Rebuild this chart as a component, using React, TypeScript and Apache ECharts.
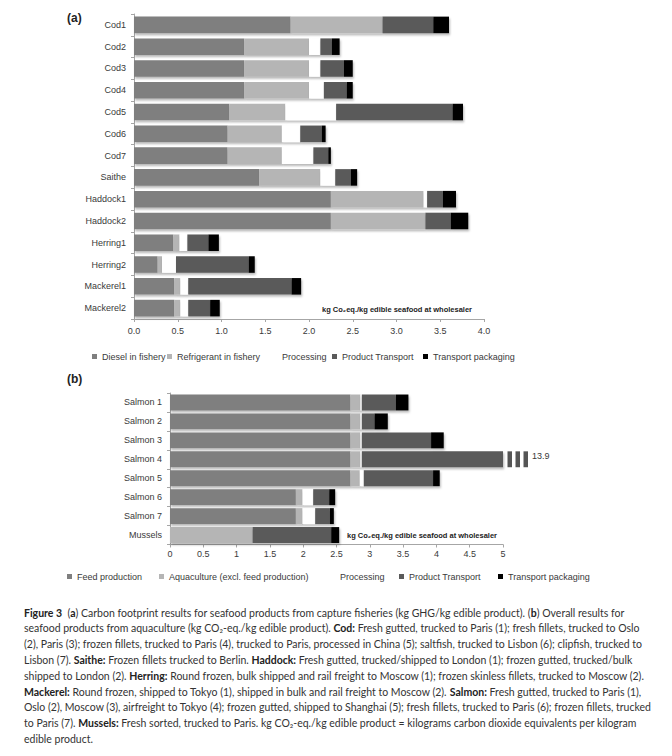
import React, { useEffect, useRef } from 'react';
import * as echarts from 'echarts';

// ---------- Data: (a) capture fisheries ----------
const fisheryProducts = ['Cod1', 'Cod2', 'Cod3', 'Cod4', 'Cod5', 'Cod6', 'Cod7', 'Saithe', 'Haddock1', 'Haddock2', 'Herring1', 'Herring2', 'Mackerel1', 'Mackerel2'];
const dieselInFishery = [1.79, 1.26, 1.26, 1.26, 1.09, 1.07, 1.07, 1.43, 2.25, 2.25, 0.45, 0.27, 0.46, 0.46];
const refrigerantInFishery = [1.05, 0.74, 0.74, 0.74, 0.64, 0.62, 0.62, 0.70, 1.06, 1.08, 0.07, 0.05, 0.07, 0.07];
const processingA = [0, 0.13, 0.13, 0.17, 0.58, 0.21, 0.36, 0.17, 0.04, 0, 0.09, 0.16, 0.09, 0.09];
const productTransportA = [0.58, 0.13, 0.27, 0.26, 1.33, 0.245, 0.17, 0.18, 0.18, 0.29, 0.24, 0.83, 1.18, 0.25];
const transportPackagingA = [0.18, 0.09, 0.10, 0.07, 0.12, 0.045, 0.03, 0.07, 0.15, 0.20, 0.12, 0.07, 0.11, 0.11];
const ticksA = ['0.0', '0.5', '1.0', '1.5', '2.0', '2.5', '3.0', '3.5', '4.0'];

// ---------- Data: (b) aquaculture ----------
const aquaProducts = ['Salmon 1', 'Salmon 2', 'Salmon 3', 'Salmon 4', 'Salmon 5', 'Salmon 6', 'Salmon 7', 'Mussels'];
const feedProduction = [2.71, 2.71, 2.71, 2.71, 2.71, 1.89, 1.89, 0];
const aquacultureExclFeed = [0.15, 0.15, 0.15, 0.15, 0.14, 0.10, 0.10, 1.24];
const processingB = [0.02, 0.02, 0.02, 0.02, 0.06, 0.16, 0.19, 0];
const productTransportB = [0.51, 0.19, 1.04, 10.82, 1.04, 0.24, 0.22, 1.18];
const transportPackagingB = [0.19, 0.20, 0.19, 0.20, 0.10, 0.09, 0.06, 0.12];
const ticksB = ['0', '0.5', '1', '1.5', '2', '2.5', '3', '3.5', '4', '4.5', '5'];
const brokenProduct = 'Salmon 4';

const X_MAX_A = 4;
const X_MAX_B = 5;

const FONT = '"Liberation Sans", Arial, sans-serif';
const CAPTION_FONT = 'Lato, "Open Sans", sans-serif';
const TXT = '#3a3a3a';
const AXIS = '#a6a6a6';
const C_MAIN = '#7f7f7f';
const C_LIGHT = '#b5b5b5';
const C_PROC = '#ffffff';
const C_TRANS = '#5a5a5a';
const C_PACK = '#000000';

const captionLines: string[] = [
  '{b|Figure 3}  ({b|a}) Carbon footprint results for seafood products from capture fisheries (kg GHG/kg edible product). ({b|b}) Overall results for',
  'seafood products from aquaculture (kg CO₂-eq./kg edible product). {b|Cod:} Fresh gutted, trucked to Paris (1); fresh fillets, trucked to Oslo',
  '(2), Paris (3); frozen fillets, trucked to Paris (4), trucked to Paris, processed in China (5); saltfish, trucked to Lisbon (6); clipfish, trucked to',
  'Lisbon (7). {b|Saithe:} Frozen fillets trucked to Berlin. {b|Haddock:} Fresh gutted, trucked/shipped to London (1); frozen gutted, trucked/bulk',
  'shipped to London (2). {b|Herring:} Round frozen, bulk shipped and rail freight to Moscow (1); frozen skinless fillets, trucked to Moscow (2).',
  '{b|Mackerel:} Round frozen, shipped to Tokyo (1), shipped in bulk and rail freight to Moscow (2). {b|Salmon:} Fresh gutted, trucked to Paris (1),',
  'Oslo (2), Moscow (3), airfreight to Tokyo (4); frozen gutted, shipped to Shanghai (5); fresh fillets, trucked to Paris (6); frozen fillets, trucked',
  'to Paris (7). {b|Mussels:} Fresh sorted, trucked to Paris. kg CO₂-eq./kg edible product = kilograms carbon dioxide equivalents per kilogram',
  'edible product.',
];

const shadow = {
  shadowColor: 'rgba(0,0,0,0.28)',
  shadowBlur: 2,
  shadowOffsetX: 1,
  shadowOffsetY: 2,
};

function barSeries(name: string, data: number[], color: string, idx: number, stack: string, gap: string) {
  return {
    name,
    type: 'bar',
    stack,
    xAxisIndex: idx,
    yAxisIndex: idx,
    data,
    barCategoryGap: gap,
    clip: true,
    itemStyle: { color, ...shadow },
    emphasis: { disabled: true },
    silent: true,
  };
}

function singleLegend(name: string, left: number, top: number) {
  return {
    data: [name],
    left,
    top,
    orient: 'horizontal',
    padding: 0,
    itemWidth: 5,
    itemHeight: 5,
    icon: 'rect',
    selectedMode: false,
    textStyle: { fontSize: 9, fontFamily: FONT, color: TXT },
  };
}

export default function App() {
  const ref = useRef<HTMLDivElement>(null);

  useEffect(() => {
    if (!ref.current) return;
    const chart = echarts.init(ref.current, null, { renderer: 'svg' });

    const salmonIdx = aquaProducts.indexOf(brokenProduct);
    const brokenTotal =
      feedProduction[salmonIdx] + aquacultureExclFeed[salmonIdx] + processingB[salmonIdx] +
      productTransportB[salmonIdx] + transportPackagingB[salmonIdx];

    const axisCommon = {
      axisLine: { show: true, lineStyle: { color: AXIS, width: 1 } },
      axisTick: { show: true, length: 3, lineStyle: { color: AXIS } },
      splitLine: { show: false },
    };

    const option: any = {
      animation: false,
      backgroundColor: '#ffffff',
      grid: [
        { left: 134, top: 14, width: 350, height: 305, containLabel: false },
        { left: 170, top: 393, width: 333, height: 151.5, containLabel: false },
      ],
      xAxis: [
        {
          type: 'value', gridIndex: 0, min: 0, max: X_MAX_A, interval: 0.5,
          ...axisCommon,
          axisLabel: {
            fontSize: 9, fontFamily: FONT, color: TXT, margin: 7,
            formatter: (v: number) => ticksA[Math.round(v / 0.5)] ?? String(v),
          },
        },
        {
          type: 'value', gridIndex: 1, min: 0, max: X_MAX_B, interval: 0.5,
          ...axisCommon,
          axisLabel: {
            fontSize: 9, fontFamily: FONT, color: TXT, margin: 5,
            formatter: (v: number) => ticksB[Math.round(v / 0.5)] ?? String(v),
          },
        },
      ],
      yAxis: [
        {
          type: 'category', gridIndex: 0, data: fisheryProducts, inverse: true,
          ...axisCommon,
          axisLabel: { fontSize: 9, fontFamily: FONT, color: TXT, margin: 8 },
        },
        {
          type: 'category', gridIndex: 1, data: aquaProducts, inverse: true,
          ...axisCommon,
          axisLabel: { fontSize: 9, fontFamily: FONT, color: TXT, margin: 8 },
        },
      ],
      legend: [
        singleLegend('Diesel in fishery', 92, 352),
        singleLegend('Refrigerant in fishery', 167, 352),
        singleLegend('Processing', 272, 352),
        singleLegend('Product Transport', 332, 352),
        singleLegend('Transport packaging', 423, 352),
        singleLegend('Feed production', 67, 572),
        singleLegend('Aquaculture (excl. feed production)', 159, 572),
        { ...singleLegend('Processing', 330, 572) },
        { ...singleLegend('Product Transport', 399, 572) },
        { ...singleLegend('Transport packaging', 498, 572) },
      ],
      series: [
        barSeries('Diesel in fishery', dieselInFishery, C_MAIN, 0, 'a', '24%'),
        barSeries('Refrigerant in fishery', refrigerantInFishery, C_LIGHT, 0, 'a', '24%'),
        barSeries('Processing', processingA, C_PROC, 0, 'a', '24%'),
        barSeries('Product Transport', productTransportA, C_TRANS, 0, 'a', '24%'),
        barSeries('Transport packaging', transportPackagingA, C_PACK, 0, 'a', '24%'),
        barSeries('Feed production', feedProduction, C_MAIN, 1, 'b', '16%'),
        barSeries('Aquaculture (excl. feed production)', aquacultureExclFeed, C_LIGHT, 1, 'b', '16%'),
        barSeries('Processing', processingB, C_PROC, 1, 'b', '16%'),
        barSeries('Product Transport', productTransportB, C_TRANS, 1, 'b', '16%'),
        barSeries('Transport packaging', transportPackagingB, C_PACK, 1, 'b', '16%'),
        {
          type: 'custom',
          name: 'break',
          xAxisIndex: 1,
          yAxisIndex: 1,
          silent: true,
          clip: false,
          data: [[X_MAX_B, brokenProduct, brokenTotal]],
          renderItem: (_params: any, api: any) => {
            const p = api.coord([api.value(0), api.value(1)]);
            const h = api.size([0, 1])[1] * 0.84;
            const children: any[] = [0, 1, 2].map((i) => ({
              type: 'rect',
              shape: { x: p[0] + 4.5 + i * 8, y: p[1] - h / 2, width: 4.5, height: h },
              style: { fill: '#555555' },
            }));
            children.push({
              type: 'text',
              style: {
                text: Number(api.value(2)).toFixed(1),
                x: p[0] + 29,
                y: p[1] - 3,
                fontSize: 9,
                fontFamily: FONT,
                fill: TXT,
                verticalAlign: 'middle',
                align: 'left',
              },
            });
            return { type: 'group', children };
          },
        },
      ],
      graphic: [
        { type: 'text', left: 67, top: 12, style: { text: '(a)', fontSize: 12, fontWeight: 'bold', fontFamily: FONT, fill: '#222' } },
        { type: 'text', left: 67, top: 373, style: { text: '(b)', fontSize: 12, fontWeight: 'bold', fontFamily: FONT, fill: '#222' } },
        { type: 'text', left: 322, top: 305, style: { text: 'kg Co₂eq./kg edible seafood at wholesaler', fontSize: 7.5, fontWeight: 'bold', fontFamily: FONT, fill: '#222' } },
        { type: 'text', left: 347, top: 531, style: { text: 'kg Co₂eq./kg edible seafood at wholesaler', fontSize: 7.5, fontWeight: 'bold', fontFamily: FONT, fill: '#222' } },
        ...captionLines.map((line, i) => ({
          type: 'text',
          left: 24,
          top: 607 + i * 15.8,
          style: {
            text: line,
            fontSize: 10.5,
            fontFamily: CAPTION_FONT,
            fill: '#333',
            rich: {
              b: { fontSize: 10.5, fontFamily: CAPTION_FONT, fontWeight: 'bold', fill: '#222' },
            },
          },
        })),
      ],
    };

    chart.setOption(option);
    return () => chart.dispose();
  }, []);

  return (
    <div
      ref={ref}
      style={{ position: 'absolute', left: 0, top: 0, width: 672, height: 756, background: '#fff' }}
    />
  );
}
